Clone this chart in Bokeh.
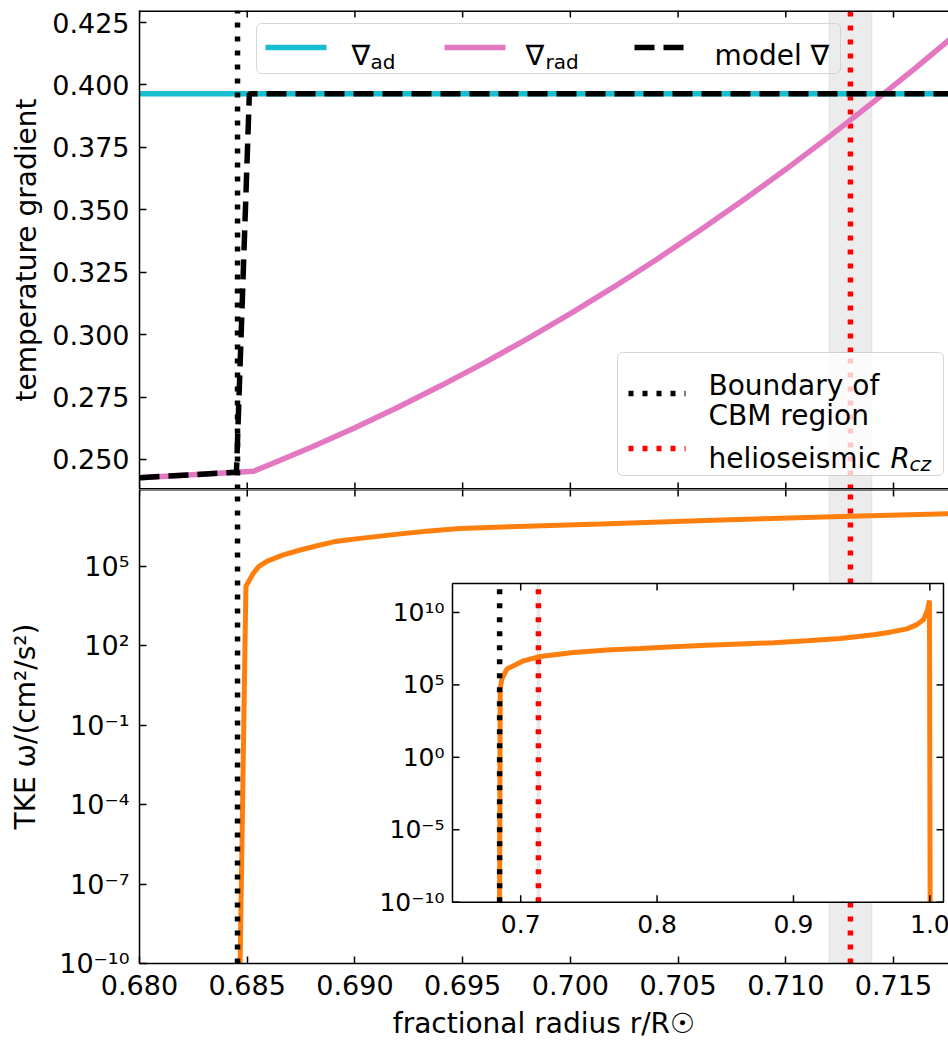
from bokeh.plotting import figure
from bokeh.models import (Range1d, LogScale, FixedTicker,
                          PrintfTickFormatter, CustomJSTickFormatter, BoxAnnotation)
from bokeh.layouts import column
from bokeh.core.properties import value
from bokeh.embed import file_html
from bokeh.resources import INLINE

FONT = "DejaVu Sans"
CYAN, PINK, ORANGE = "#17becf", "#e377c2", "#ff7f0e"

# ---------------- data ----------------
r_ad = [0.680, 0.718]
nabla_ad = [0.3965, 0.3965]

r_rad = [0.680, 0.6845, 0.6853, 0.686, 0.688, 0.690, 0.692, 0.694, 0.696, 0.698,
         0.700, 0.702, 0.704, 0.706, 0.708, 0.710, 0.712, 0.714, 0.716, 0.718]
nabla_rad = [0.2427, 0.2449, 0.2453, 0.2478, 0.2550, 0.2627, 0.2709, 0.2796, 0.2887, 0.2983,
             0.3084, 0.3190, 0.3301, 0.3417, 0.3537, 0.3662, 0.3792, 0.3927, 0.4066, 0.4210]

r_model = [0.680, 0.6845, 0.6851, 0.718]
nabla_model = [0.2427, 0.2449, 0.3965, 0.3965]

r_tke = [0.68465, 0.68467, 0.68494, 0.68529, 0.68554, 0.68591, 0.68664, 0.68746,
         0.68824, 0.68901, 0.68954, 0.69025, 0.69210, 0.69344, 0.69489, 0.69794,
         0.7014, 0.7070, 0.7130, 0.7180]
tke = [1e-11, 1e-10, 1.78e4, 5.62e4, 1.0e5, 1.55e5, 2.69e5, 4.17e5,
       6.03e5, 8.51e5, 9.77e5, 1.15e6, 1.70e6, 2.19e6, 2.69e6, 3.31e6,
       3.98e6, 5.62e6, 7.94e6, 1.0e7]

r_tke_in = [0.68450, 0.68497, 0.6862, 0.6899, 0.7021, 0.7143, 0.7387, 0.7632, 0.7876,
            0.8120, 0.8365, 0.8609, 0.8854, 0.9098, 0.9343, 0.9587, 0.9709, 0.9832,
            0.9905, 0.9953, 0.9983, 0.9997, 1.0002]
tke_in = [1e-10, 5.37e4, 2.57e5, 1.23e6, 4.57e6, 9.12e6, 1.70e7, 2.57e7, 3.31e7,
          4.37e7, 5.37e7, 6.61e7, 8.13e7, 1.12e8, 1.62e8, 2.88e8, 4.37e8, 7.41e8,
          1.45e9, 3.16e9, 1.51e10, 6.61e10, 1e-10]

r_cbm = 0.68455          # boundary of CBM region
r_cz = 0.713             # helioseismic R_cz
r_cz_band = [0.712, 0.714]

xticks = [0.680, 0.685, 0.690, 0.695, 0.700, 0.705, 0.710, 0.715]
grad_ticks = [0.250, 0.275, 0.300, 0.325, 0.350, 0.375, 0.400, 0.425]
tke_ticks = [1e-10, 1e-7, 1e-4, 1e-1, 1e2, 1e5]
tke_tick_labels = ["10\u207b\u00b9\u2070", "10\u207b\u2077", "10\u207b\u2074",
                   "10\u207b\u00b9", "10\u00b2", "10\u2075"]
inset_xticks = [0.7, 0.8, 0.9, 1.0]
inset_xlabels = ["0.7", "0.8", "0.9", "1.0"]
inset_yticks = [1e-10, 1e-5, 1e0, 1e5, 1e10]
inset_ylabels = ["10\u207b\u00b9\u2070", "10\u207b\u2075", "10\u2070", "10\u2075", "10\u00b9\u2070"]

legend_top = ["\u2207", "ad", "\u2207", "rad", "model \u2207"]
legend_bot = ["Boundary of", "CBM region", "helioseismic ", "R", "cz"]

# ---------------- layout constants (pixels) ----------------
W, H = 948, 1042
FL, FT, MID, BOT = 139, 10, 489, 968
PXU = 21543.0                     # px per unit of r
X0 = 0.680
X1 = X0 + (W - FL) / PXU
Y_TOP = 0.42981
PYU = 2497.0
Y_BOT = Y_TOP - (MID - FT) / PYU
DEC = 26.75                       # px per decade (main TKE panel)
T_BOT = 1e-10
T_TOP = 10 ** (-10 + (BOT - MID) / DEC)
TL = 7                            # tick length px
BAND_A = 0.15                     # alpha of the R_cz uncertainty band
LEG2 = (617, 943, 352, 475)       # lower legend box (l, r, t, b) px
LEG1 = (256, 840, 23, 73)
IL, IR, IT, IB = 452, 943, 584, 906   # inset frame px

def sx(px):
    return X0 + (px - FL) / PXU

def sy1(py):
    return Y_TOP - (py - FT) / PYU

def sy2(py):
    return 10 ** (-10 + (BOT - py) / DEC)

xr = Range1d(X0, X1)

def style_axis(ax, tick_size="27px"):
    ax.axis_line_color = "black"
    ax.axis_line_width = 1.5
    ax.major_tick_in = TL
    ax.major_tick_out = 0
    ax.major_tick_line_width = 1.5
    ax.major_tick_line_color = "black"
    ax.minor_tick_in = 0
    ax.minor_tick_out = 0
    ax.major_label_text_font = FONT
    ax.major_label_text_color = "black"
    ax.major_label_text_font_size = tick_size
    ax.axis_label_text_font = FONT
    ax.axis_label_text_font_size = "28px"
    ax.axis_label_text_font_style = "normal"
    ax.axis_label_text_color = "black"

def band_and_line(p, pieces, **kw):
    # pieces: list of (y_low, y_high, strength) ; strength scales the alpha
    for (lo, hi, s) in pieces:
        p.quad(left=[r_cz_band[0]], right=[r_cz_band[1]], bottom=[lo], top=[hi],
               fill_color="#808080", fill_alpha=BAND_A * s, line_color="#808080",
               line_alpha=0.12 * s, **kw)
    for (lo, hi, s) in pieces:
        p.segment(x0=[r_cz], x1=[r_cz], y0=[lo], y1=[hi], line_color="red",
                  line_alpha=s, line_width=5.5, line_dash="5 9", **kw)

# ================= top panel =================
p1 = figure(width=W, height=MID, x_range=xr, y_range=Range1d(Y_BOT, Y_TOP),
            x_axis_location=None,
            output_backend="svg", toolbar_location=None,
            min_border_left=FL, min_border_right=0, min_border_top=FT, min_border_bottom=0,
            outline_line_color=None, background_fill_color="white", border_fill_color="white")
p1.grid.visible = False

ly = p1.left[0]
ly.ticker = FixedTicker(ticks=grad_ticks)
ly.formatter = PrintfTickFormatter(format="%.3f")
ly.axis_label = "temperature gradient"
style_axis(ly)
ly.major_label_standoff = 10
ly.axis_label_standoff = 6

# band + R_cz line, faded where the legend box (80% white) lies over them
band_and_line(p1, [(Y_BOT, sy1(LEG2[3]), 1.0),
                   (sy1(LEG2[3]), sy1(LEG2[2]), 0.2),
                   (sy1(LEG2[2]), Y_TOP, 1.0)])
p1.line(r_ad, nabla_ad, line_color=CYAN, line_width=5.5)
p1.line(r_rad, nabla_rad, line_color=PINK, line_width=5.5)
p1.line(r_model, nabla_model, line_color="black", line_width=5.5, line_dash="20 9")
p1.segment(x0=[r_cbm], x1=[r_cbm], y0=[Y_BOT], y1=[Y_TOP], line_color="black",
           line_width=5.5, line_dash="5 9")

# frame edges (top / bottom spines with inward ticks)
nx = len(xticks)
p1.segment(x0=[X0, X0], x1=[X1, X1], y0=[Y_TOP, Y_BOT], y1=[Y_TOP, Y_BOT],
           line_color="black", line_width=3)
p1.segment(x0=xticks, x1=xticks, y0=[Y_TOP] * nx, y1=[Y_TOP - TL / PYU] * nx,
           line_color="black", line_width=1.5)
p1.segment(x0=xticks, x1=xticks, y0=[Y_BOT] * nx, y1=[Y_BOT + TL / PYU] * nx,
           line_color="black", line_width=1.5)

# legends (boxes + sample lines + text)
def put_text(px, py, s, size="28px", style="normal"):
    p1.text(x=[sx(px)], y=[sy1(py)], text=[s], text_font=value(FONT), text_font_size=size,
            text_font_style=value(style), text_align=value("left"),
            text_baseline=value("alphabetic"), text_color="black", level="overlay")

def sample(px0, px1, py, color, dash):
    p1.line(x=[sx(px0), sx(px1)], y=[sy1(py), sy1(py)], line_color=color, line_width=5.5,
            line_dash=dash, level="overlay")

for (l, r, t, b) in [LEG1, LEG2]:
    p1.add_layout(BoxAnnotation(left=sx(l), right=sx(r), top=sy1(t), bottom=sy1(b),
                                fill_color=None, line_color="#cccccc",
                                line_alpha=0.8, line_width=1, border_radius=5))

sample(265, 326, 47, CYAN, "solid")
put_text(351, 55, legend_top[0])
put_text(370, 61, legend_top[1], size="20px")
sample(444, 505, 47, PINK, "solid")
put_text(525, 55, legend_top[2])
put_text(545, 61, legend_top[3], size="20px")
sample(634, 692, 47, "black", "20 9")
put_text(714, 55, legend_top[4])

sample(628, 685, 393, "black", "5 9")
put_text(708, 385, legend_bot[0])
put_text(708, 415, legend_bot[1])
sample(628, 685, 448, "red", "5 9")
put_text(708, 458, legend_bot[2])
put_text(890, 458, legend_bot[3], style="italic")
put_text(909, 463, legend_bot[4], size="20px", style="italic")

# ================= bottom panel =================
p2 = figure(width=W, height=H - MID, x_range=xr,
            y_range=Range1d(T_BOT, T_TOP), y_axis_type="log",
            output_backend="svg", toolbar_location=None,
            min_border_left=FL, min_border_right=0, min_border_top=0, min_border_bottom=H - BOT,
            outline_line_color=None, background_fill_color="white", border_fill_color="white")
p2.grid.visible = False

bx2 = p2.below[0]
bx2.ticker = FixedTicker(ticks=xticks)
bx2.formatter = PrintfTickFormatter(format="%.3f")
bx2.axis_label = "fractional radius r/R\u2609"
style_axis(bx2)
bx2.major_label_standoff = 11
bx2.axis_label_standoff = 9

ly2 = p2.left[0]
ly2.ticker = FixedTicker(ticks=tke_ticks)
ly2.formatter = CustomJSTickFormatter(
    args=dict(vals=tke_ticks, labs=tke_tick_labels),
    code="const i = vals.findIndex(v => Math.abs(Math.log10(v) - Math.log10(tick)) < 1e-6);"
         "return i >= 0 ? labs[i] : '';")
ly2.axis_label = "TKE \u03c9/(cm\u00b2/s\u00b2)"
style_axis(ly2)
ly2.major_label_standoff = 10
ly2.axis_label_standoff = 14

# band + R_cz line, interrupted where the (opaque) inset lies
band_and_line(p2, [(T_BOT, sy2(IB), 1.0), (sy2(IT), T_TOP, 1.0)])
p2.line(r_tke, tke, line_color=ORANGE, line_width=5)
p2.segment(x0=[r_cbm], x1=[r_cbm], y0=[T_BOT], y1=[T_TOP], line_color="black",
           line_width=5.5, line_dash="5 9")

# top spine of the bottom panel with inward ticks
tkm = 10 ** (TL / DEC)
p2.segment(x0=[X0], x1=[X1], y0=[T_TOP], y1=[T_TOP], line_color="black", line_width=2)
p2.segment(x0=xticks, x1=xticks, y0=[T_TOP] * nx, y1=[T_TOP / tkm] * nx,
           line_color="black", line_width=1.5)

# ---- inset on extra ranges ----
IX0, IX1, IE0, IE1 = 0.65, 1.01, -10, 12
ipx = (IR - IL) / (IX1 - IX0)
idec = (IB - IT) / (IE1 - IE0)
p2.extra_x_ranges = {"ix": Range1d(IX0 - (IL - FL) / ipx, IX1 + (W - IR) / ipx)}
p2.extra_y_ranges = {"iy": Range1d(10 ** (IE0 - (BOT - IB) / idec), 10 ** (IE1 + (IT - MID) / idec))}
p2.extra_y_scales = {"iy": LogScale()}
ik = dict(x_range_name="ix", y_range_name="iy", level="overlay")
ybot, ytop = 10.0 ** IE0, 10.0 ** IE1

p2.quad(left=[IX0], right=[IX1], bottom=[ybot], top=[ytop], fill_color="white",
        line_color=None, **ik)
band_and_line(p2, [(ybot, ytop, 1.0)], **ik)
p2.line(r_tke_in, tke_in, line_color=ORANGE, line_width=5, **ik)
p2.segment(x0=[r_cbm], x1=[r_cbm], y0=[ybot], y1=[ytop], line_color="black",
           line_width=5.5, line_dash="5 9", **ik)
p2.quad(left=[IX0], right=[IX1], bottom=[ybot], top=[ytop], fill_color=None,
        line_color="black", line_width=1.5, **ik)

n = len(inset_xticks)
tk = 10 ** (TL / idec)
p2.segment(x0=inset_xticks, x1=inset_xticks, y0=[ybot] * n, y1=[ybot * tk] * n,
           line_color="black", line_width=1.5, **ik)
p2.segment(x0=inset_xticks, x1=inset_xticks, y0=[ytop] * n, y1=[ytop / tk] * n,
           line_color="black", line_width=1.5, **ik)
m = len(inset_yticks)
p2.segment(x0=[IX0] * m, x1=[IX0 + TL / ipx] * m, y0=inset_yticks, y1=inset_yticks,
           line_color="black", line_width=1.5, **ik)
p2.segment(x0=[IX1] * m, x1=[IX1 - TL / ipx] * m, y0=inset_yticks, y1=inset_yticks,
           line_color="black", line_width=1.5, **ik)
p2.text(x=inset_xticks, y=[ybot] * n, text=inset_xlabels, text_font=value(FONT),
        text_font_size="25px", text_align=value("center"), text_baseline=value("top"),
        y_offset=13, text_color="black", **ik)
p2.text(x=[IX0] * m, y=inset_yticks, text=inset_ylabels, text_font=value(FONT),
        text_font_size="25px", text_align=value("right"), text_baseline=value("middle"),
        x_offset=-8, text_color="black", **ik)

layout = column(p1, p2, spacing=0)
with open("out.html", "w", encoding="utf-8") as f:
    f.write(file_html(layout, INLINE))
